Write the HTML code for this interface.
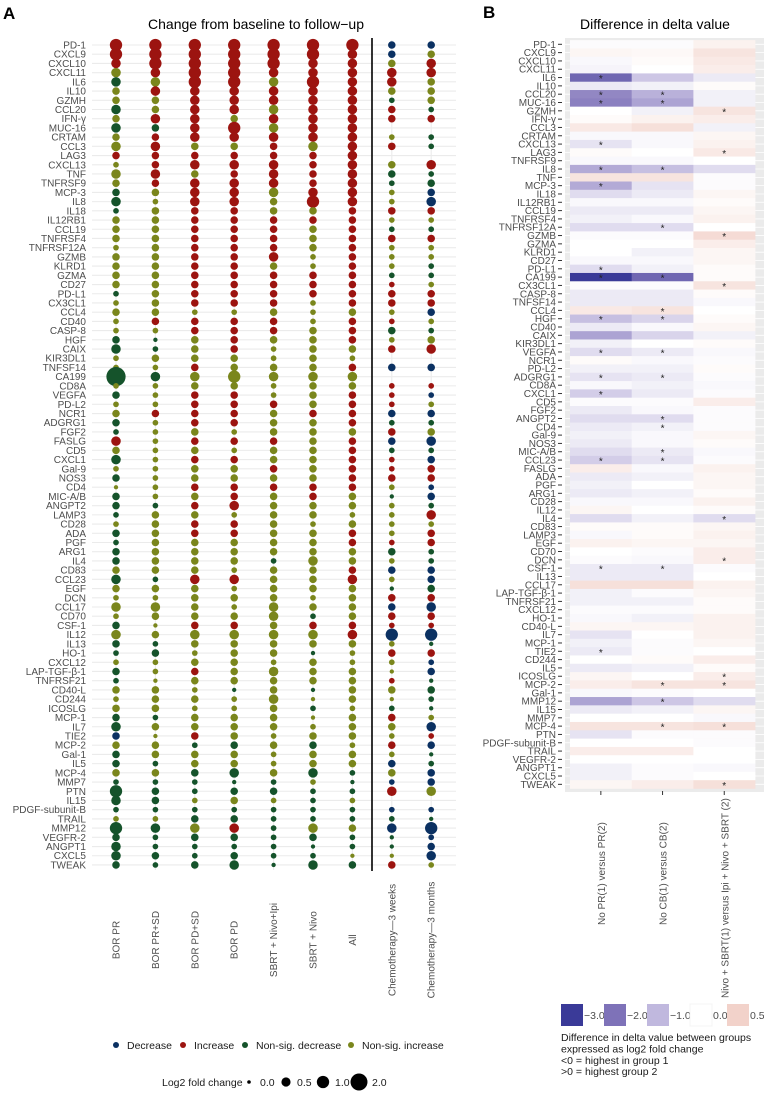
<!DOCTYPE html>
<html><head><meta charset="utf-8"><title>Cytokine changes</title>
<style>
html,body{margin:0;padding:0;background:#fff;}
svg{display:block;font-family:"Liberation Sans",Arial,sans-serif;}
</style></head>
<body>
<svg id="root" width="764" height="1098" viewBox="0 0 764 1098" xmlns="http://www.w3.org/2000/svg">
<text x="3" y="19" font-size="17" font-weight="bold">A</text>
<text x="256" y="29" font-size="14" text-anchor="middle">Change from baseline to follow−up</text>
<text x="483" y="18" font-size="17" font-weight="bold">B</text>
<text x="655" y="29" font-size="14" text-anchor="middle">Difference in delta value</text>
<g id="gA"></g>
<g id="gB"></g>
<g id="legA"></g>
<g id="legB"></g>
</svg>
<script>
const genesA = ["PD-1","CXCL9","CXCL10","CXCL11","IL6","IL10","GZMH","CCL20","IFN-γ","MUC-16","CRTAM","CCL3","LAG3","CXCL13","TNF","TNFRSF9","MCP-3","IL8","IL18","IL12RB1","CCL19","TNFRSF4","TNFRSF12A","GZMB","KLRD1","GZMA","CD27","PD-L1","CX3CL1","CCL4","CD40","CASP-8","HGF","CAIX","KIR3DL1","TNFSF14","CA199","CD8A","VEGFA","PD-L2","NCR1","ADGRG1","FGF2","FASLG","CD5","CXCL1","Gal-9","NOS3","CD4","MIC-A/B","ANGPT2","LAMP3","CD28","ADA","PGF","ARG1","IL4","CD83","CCL23","EGF","DCN","CCL17","CD70","CSF-1","IL12","IL13","HO-1","CXCL12","LAP-TGF-β-1","TNFRSF21","CD40-L","CD244","ICOSLG","MCP-1","IL7","TIE2","MCP-2","Gal-1","IL5","MCP-4","MMP7","PTN","IL15","PDGF-subunit-B","TRAIL","MMP12","VEGFR-2","ANGPT1","CXCL5","TWEAK"];
const groupsA = ["BOR PR","BOR PR+SD","BOR PD+SD","BOR PD","SBRT + Nivo+Ipi","SBRT + Nivo","All","Chemotherapy—3 weeks","Chemotherapy—3 months"];
const fcBorPR = [1.0,1.0,0.55,0.55,-0.55,0.3,0.3,-0.55,0.3,-0.55,0.3,0.55,0.3,0.12,0.55,0.3,-0.3,-0.55,-0.12,0.3,0.3,0.3,0.12,0.3,0.3,0.3,0.3,-0.12,0.12,0.3,0.12,0.12,-0.3,-0.55,0.12,0.12,-2.6,0.12,-0.3,0.12,0.3,-0.3,-0.12,0.55,0.3,-0.55,0.12,-0.3,0.02,-0.3,-0.3,-0.12,0.12,-0.3,-0.12,-0.3,-0.3,0.3,-0.55,0.3,0.12,0.55,0.12,-0.3,0.55,-0.3,-0.12,0.12,-0.3,-0.12,0.3,0.12,0.3,-0.3,-0.55,-0.3,0.3,-0.3,-0.3,0.3,-0.12,-1.0,-0.55,-0.12,0.12,-1.0,-0.3,-0.55,-0.55,-0.3];
const fcBorPRSD = [1.0,1.0,1.0,0.55,0.55,0.55,0.3,0.3,0.55,-0.3,0.3,0.55,0.3,0.3,0.55,0.3,0.3,0.12,0.3,0.3,0.3,0.3,0.3,0.3,0.3,0.3,0.3,0.3,0.3,0.3,0.3,0.12,-0.02,-0.12,0.3,0.12,-0.55,0.12,0.12,0.12,0.3,0.12,0.12,0.12,0.12,0.12,0.12,0.12,0.12,0.12,-0.12,0.3,0.3,0.3,0.3,0.3,0.3,0.3,-0.12,0.3,0.12,0.55,0.3,0.02,0.3,-0.12,-0.3,0.12,0.12,0.02,0.3,0.3,0.3,-0.12,0.3,0.02,0.3,0.3,-0.12,0.3,-0.12,-0.3,-0.3,-0.12,0.12,-0.55,-0.12,-0.12,-0.3,-0.12];
const fcBorPDSD = [1.0,1.0,1.0,1.0,1.0,0.55,0.55,0.55,0.55,0.55,0.55,0.3,0.3,0.55,0.3,0.55,0.55,0.55,0.3,0.3,0.3,0.3,0.3,0.3,0.3,0.3,0.3,0.3,0.3,0.12,0.3,0.3,0.3,0.3,0.3,0.3,0.55,0.3,0.3,0.3,0.3,0.3,0.3,0.3,0.3,0.3,0.3,0.3,0.3,0.3,0.3,0.3,0.3,0.3,0.3,0.3,0.3,0.3,0.55,0.3,0.3,0.3,0.3,0.3,0.55,0.3,0.12,0.3,0.3,0.3,0.12,0.3,0.12,0.3,0.3,0.3,-0.12,0.3,0.3,-0.3,-0.12,-0.12,0.12,-0.12,-0.3,0.55,-0.3,-0.12,-0.12,-0.3];
const fcBorPD = [1.0,1.0,1.0,1.0,1.0,0.55,0.55,0.55,0.3,1.0,0.55,0.3,0.3,0.55,0.3,0.55,0.55,0.55,0.3,0.3,0.3,0.3,0.3,0.3,0.3,0.3,0.3,0.3,0.3,0.12,0.3,0.3,0.3,0.3,0.3,0.3,1.0,0.3,0.3,0.3,0.3,0.3,0.12,0.3,0.12,0.3,0.3,0.3,0.3,0.3,0.55,0.12,0.3,0.3,0.3,0.3,0.3,0.12,0.55,0.12,0.3,0.12,0.3,0.3,0.55,0.3,0.3,0.3,0.3,0.3,-0.02,0.12,0.12,0.3,0.3,0.3,-0.3,0.3,0.3,-0.55,-0.02,-0.3,0.3,-0.12,-0.3,0.55,-0.3,-0.12,-0.3,-0.55];
const fcSbrtNivoIpi = [1.0,1.0,1.0,0.55,0.55,0.55,0.55,0.55,0.55,0.55,0.55,0.3,0.3,0.55,0.55,0.55,0.55,0.3,0.3,0.3,0.3,0.3,0.3,0.55,0.3,0.3,0.3,0.3,0.3,0.3,0.3,0.3,0.3,0.12,0.12,0.3,0.55,0.12,0.12,0.3,0.3,0.3,0.3,0.3,0.3,0.3,0.3,0.3,0.3,0.3,0.3,0.3,0.3,0.3,0.3,0.3,-0.12,0.3,0.3,0.3,0.3,0.55,0.55,0.3,0.55,0.3,0.3,0.12,0.55,0.3,0.3,0.55,0.3,0.3,0.3,0.12,0.3,0.12,0.12,0.3,-0.12,-0.3,0.12,-0.12,-0.12,-0.12,-0.12,-0.12,-0.12,-0.02];
const fcSbrtNivo = [1.0,1.0,0.55,0.55,1.0,0.55,0.55,0.55,0.55,0.55,0.55,0.55,0.3,0.3,0.3,0.3,0.55,1.0,0.3,0.3,0.3,0.3,0.3,0.12,0.12,0.3,0.3,0.3,0.12,0.12,0.12,0.3,0.3,0.3,0.3,0.3,0.55,0.3,0.3,0.3,0.3,0.3,0.3,0.3,0.3,0.3,0.3,0.3,0.3,0.3,0.3,0.3,0.12,0.3,0.3,0.3,0.55,0.3,0.3,0.3,0.12,0.3,-0.12,0.3,0.55,0.3,-0.02,0.3,0.3,0.3,-0.02,0.02,-0.12,0.02,0.12,0.3,-0.3,0.3,0.3,-0.55,0.12,-0.12,-0.12,-0.12,-0.12,0.55,-0.3,-0.02,-0.12,-0.55];
const fcAll = [1.0,0.55,0.55,0.55,0.55,0.55,0.55,0.55,0.55,0.55,0.55,0.55,0.55,0.55,0.55,0.55,0.55,0.55,0.3,0.3,0.3,0.3,0.3,0.3,0.3,0.3,0.3,0.3,0.3,0.3,0.3,0.3,0.3,0.3,0.12,0.3,0.55,0.3,0.3,0.3,0.3,0.3,0.3,0.3,0.3,0.3,0.3,0.3,0.3,0.3,0.3,0.12,0.3,0.3,0.3,0.3,0.3,0.3,0.55,0.3,0.3,0.3,0.3,0.3,0.55,0.3,0.12,0.12,0.3,0.3,0.3,0.3,0.12,0.3,0.3,0.3,0.12,0.3,0.3,-0.12,-0.02,-0.12,0.12,-0.12,-0.12,0.3,-0.12,-0.12,0.02,-0.3];
const fcChemo3w = [-0.3,-0.3,0.3,0.55,0.55,0.3,-0.12,0.3,0.3,null,0.12,0.3,null,0.3,-0.3,-0.12,0.12,0.12,0.3,0.12,-0.12,0.3,0.12,0.12,0.12,-0.12,0.12,0.3,0.3,0.12,0.12,-0.3,0.12,0.3,null,-0.3,null,0.12,0.12,0.12,-0.3,-0.12,0.3,-0.3,-0.12,0.12,0.12,0.3,0.12,-0.02,0.12,0.12,0.12,0.12,0.12,-0.3,0.12,-0.3,0.12,-0.02,0.3,-0.3,0.3,0.12,-1.0,0.12,0.3,0.12,0.02,0.12,0.3,0.02,-0.12,0.3,0.3,0.12,0.3,0.12,-0.3,0.3,-0.12,0.55,null,-0.12,-0.12,-0.55,-0.02,-0.02,0.02,0.3];
const fcChemo3m = [-0.3,0.3,0.55,0.55,0.3,0.3,0.3,-0.12,0.3,null,-0.12,-0.12,null,0.55,-0.12,-0.3,-0.3,-0.55,0.3,0.12,-0.12,0.3,0.12,0.12,-0.12,-0.12,0.12,0.3,0.3,-0.3,0.12,-0.12,0.3,0.55,null,-0.3,null,0.12,-0.12,0.12,-0.3,-0.12,0.3,-0.55,-0.12,-0.3,0.3,0.3,-0.12,-0.3,-0.12,0.55,0.12,0.3,0.3,-0.12,-0.12,-0.3,-0.3,-0.3,0.3,-0.55,0.3,0.12,-1.0,-0.02,0.3,-0.12,-0.3,-0.02,-0.3,-0.12,-0.02,0.12,-0.55,0.12,-0.3,-0.02,-0.12,-0.3,-0.3,0.55,null,-0.12,-0.02,-1.0,-0.12,-0.3,-0.55,0.12];
const sigBorPR = [0,1,2,12,43,75];
const sigBorPRSD = [0,1,2,3,5,8,10,11,12,13,14,15,30,40];
const sigBorPDSD = [0,1,2,3,4,5,6,7,8,9,10,12,13,15,16,17,18,19,20,21,22,23,24,25,26,27,28,30,31,35,38,39,40,41,43,45,48,50,52,53,58,63,68,75];
const sigBorPD = [0,1,2,3,4,5,6,7,9,10,12,13,14,15,16,17,18,19,20,21,22,23,24,25,26,27,28,30,31,32,33,38,39,40,41,43,45,48,49,50,52,53,58,63,85];
const sigSbrtNivoIpi = [0,1,2,3,5,6,8,10,11,12,13,14,15,19,20,21,22,23,25,26,27,28,30,31,39,43,46,48];
const sigSbrtNivo = [0,1,2,3,4,5,6,7,8,9,10,12,13,14,15,16,17,19,25,26,27,40,48,49,63];
const sigAll = [0,1,2,3,4,5,6,7,8,9,10,11,12,13,14,15,16,17,18,19,20,21,22,23,24,25,26,27,28,30,31,32,35,38,39,40,41,43,44,45,46,47,48,53,54,57,58,63,64];
const sigChemo3w = [0,1,3,4,7,8,11,18,21,26,27,28,30,33,35,37,38,39,40,42,43,45,46,47,54,57,60,61,62,63,64,66,69,73,76,78,80,81,83,85,89];
const sigChemo3m = [0,2,3,8,13,16,17,18,21,27,28,29,33,35,37,38,40,43,45,46,47,48,49,51,53,54,57,58,60,61,62,63,64,66,67,68,74,75,76,79,80,83,85,86,87,88];

const genesB = ["PD-1","CXCL9","CXCL10","CXCL11","IL6","IL10","CCL20","MUC-16","GZMH","IFN-γ","CCL3","CRTAM","CXCL13","LAG3","TNFRSF9","IL8","TNF","MCP-3","IL18","IL12RB1","CCL19","TNFRSF4","TNFRSF12A","GZMB","GZMA","KLRD1","CD27","PD-L1","CA199","CX3CL1","CASP-8","TNFSF14","CCL4","HGF","CD40","CAIX","KIR3DL1","VEGFA","NCR1","PD-L2","ADGRG1","CD8A","CXCL1","CD5","FGF2","ANGPT2","CD4","Gal-9","NOS3","MIC-A/B","CCL23","FASLG","ADA","PGF","ARG1","CD28","IL12","IL4","CD83","LAMP3","EGF","CD70","DCN","CSF-1","IL13","CCL17","LAP-TGF-β-1","TNFRSF21","CXCL12","HO-1","CD40-L","IL7","MCP-1","TIE2","CD244","IL5","ICOSLG","MCP-2","Gal-1","MMP12","IL15","MMP7","MCP-4","PTN","PDGF-subunit-B","TRAIL","VEGFR-2","ANGPT1","CXCL5","TWEAK"];
const comparisonsB = ["No PR(1) versus PR(2)","No CB(1) versus CB(2)","Nivo + SBRT(1) versus Ipi + Nivo + SBRT (2)"];
const diffNoPR = [-0.05,0.1,-0.1,-0.15,-2.2,-0.3,-1.7,-1.8,0,0.05,0.25,-0.1,-0.4,0.05,-0.1,-1.2,0.3,-1.2,-0.5,-0.1,-0.3,-0.2,-0.5,-0.05,0,0,-0.1,-0.5,-3,-0.05,-0.3,-0.3,0.25,-0.9,-0.3,-1.3,-0.2,-0.5,0.05,-0.2,-0.4,-0.1,-0.7,-0.05,-0.3,-0.5,-0.3,-0.2,-0.3,-0.5,-0.7,0.2,-0.3,-0.2,-0.3,-0.1,0.1,-0.5,0.05,-0.1,0.15,0,-0.05,-0.3,-0.3,0.35,-0.2,-0.2,-0.05,-0.1,0.1,-0.4,-0.2,-0.3,0,-0.3,0.1,0.2,-0.1,-1.3,-0.3,0,0.3,-0.4,0,0.2,0,-0.2,-0.2,0.1];
const diffNoCB = [-0.05,0.08,0.05,0,-0.8,-0.2,-1.1,-1.3,-0.2,0.15,0.35,-0.1,-0.1,0,-0.1,-0.9,0.3,-0.4,-0.3,-0.1,-0.3,-0.1,-0.5,-0.05,0,-0.2,-0.1,-0.2,-2.2,-0.05,-0.3,-0.3,0.3,-0.6,-0.1,-0.6,0,-0.3,-0.1,-0.2,-0.3,-0.2,-0.3,-0.05,-0.1,-0.5,-0.2,-0.1,-0.1,-0.3,-0.4,-0.1,-0.2,0,-0.2,-0.1,0,-0.2,0.05,0.05,0.1,-0.05,-0.1,-0.3,-0.3,0.35,-0.05,-0.2,-0.05,-0.2,0.1,0,-0.05,-0.05,0.05,-0.2,0,0.3,-0.05,-0.8,-0.2,0,0.3,-0.05,0,0.2,0,-0.05,-0.05,0.2];
const diffNivoSbrt = [0.15,0.3,0.25,0.2,-0.3,0.05,-0.2,-0.2,0.3,0.2,-0.2,0.1,0.15,0.25,0,-0.5,-0.05,-0.05,0.1,0.05,0.1,0.15,0,0.4,0.2,0.1,0.1,0.05,0.05,0.3,0.05,-0.1,0,0.05,0.1,-0.2,0.05,-0.1,-0.05,0.05,-0.05,-0.1,-0.05,0.2,-0.05,-0.05,-0.05,0.1,0.05,-0.1,-0.05,0.15,0.1,0.1,0.05,0.15,0.05,-0.5,0.1,0.15,0.1,0.2,0.2,-0.05,0,0.15,0.1,0.05,0.05,0.15,0.15,0.15,0.1,0,0.2,0.05,0.2,0.3,0,-0.5,0.1,-0.1,0.35,-0.05,-0.05,0,0,-0.1,0,0.35];
const starsNoPR = [4,6,7,12,15,17,27,28,33,37,40,42,50,63,73];
const starsNoCB = [6,7,15,22,28,32,33,37,40,45,46,49,50,63,77,79,82];
const starsNivoSbrt = [8,13,23,29,57,62,76,77,82,89];
const legendBreaks = [-3.0,-2.0,-1.0,0.0,0.5];
const sizeBreaks = [0.0,0.5,1.0,2.0];

const NS = "http://www.w3.org/2000/svg";
function mk(tag, parent, attrs){const e=document.createElementNS(NS,tag);for(const k in attrs)e.setAttribute(k,attrs[k]);parent.appendChild(e);return e;}

/* ---------- Panel A ---------- */
const gA = document.getElementById('gA');
const colX0 = 116, colStep = 39.4;
const rowY0 = 45, rowStep = 9.213;
const xA = i => colX0 + colStep*i;
const yA = i => rowY0 + rowStep*i;
const rA = v => Math.sqrt(4 + 34*Math.abs(v));
const COL = {dec:"#0b3162", inc:"#9c1410", nsdec:"#15532b", nsinc:"#7a861c"};
const colsA = [fcBorPR,fcBorPRSD,fcBorPDSD,fcBorPD,fcSbrtNivoIpi,fcSbrtNivo,fcAll,fcChemo3w,fcChemo3m];
const sigsA = [sigBorPR,sigBorPRSD,sigBorPDSD,sigBorPD,sigSbrtNivoIpi,sigSbrtNivo,sigAll,sigChemo3w,sigChemo3m];

genesA.forEach((g,i)=>{
  const ln = mk('line', gA, {x1:92,x2:456,y1:yA(i),y2:yA(i),stroke:"#ebebeb","stroke-width":1.1});
  
  
  const t = mk('text', gA, {x:86,y:yA(i)+3.5,"font-size":10,"text-anchor":"end",fill:"#4d4d4d"});
  t.textContent = g;
  
  
});
groupsA.forEach((g,j)=>{
  const vl = mk('line', gA, {x1:xA(j),x2:xA(j),y1:40,y2:870,stroke:"#ebebeb","stroke-width":1.1});
  
  
});
const sep = mk('line', gA, {x1:372,x2:372,y1:38,y2:871,stroke:"#000","stroke-width":1.6});


colsA.forEach((col,j)=>{
  const sig = new Set(sigsA[j]);
  col.forEach((v,i)=>{
    if(v===null) return;
    let c;
    if(sig.has(i)) c = v<0?COL.dec:COL.inc; else c = v<0?COL.nsdec:COL.nsinc;
    const d = mk('circle', gA, {cx:xA(j),cy:yA(i),r:rA(v).toFixed(2),fill:c});
    
    
  });
  const t = mk('text', gA, {x:0,y:0,"font-size":10,"text-anchor":"middle",fill:"#4d4d4d",transform:`translate(${xA(j)+3.5},940) rotate(-90)`});
  t.textContent = groupsA[j];
  
  
});

/* ---------- Panel B ---------- */
const gB = document.getElementById('gB');
const bx0 = 570, bw = 61.7, by0 = 44.3, bh = 8.315;
const xB = j => bx0 + bw*j;
const yB = i => by0 + bh*i;
const stops = [[-3,[58,58,152]],[-2,[126,114,184]],[-1,[192,184,222]],[0,[255,255,255]],[0.5,[242,210,202]]];
function colB(v){
  if(v<=stops[0][0]) return `rgb(${stops[0][1]})`;
  for(let k=0;k<stops.length-1;k++){
    const [a,ca]=stops[k],[b,cb]=stops[k+1];
    if(v<=b){const t=(v-a)/(b-a);return `rgb(${ca.map((c,m)=>Math.round(c+(cb[m]-c)*t)).join(',')})`;}
  }
  return `rgb(${stops[stops.length-1][1]})`;
}
const bg = mk('rect', gB, {x:565,y:38,width:199,height:754,fill:"#ebebeb"});


genesB.forEach((g,i)=>{
  const gl = mk('line', gB, {x1:565,x2:764,y1:yB(i),y2:yB(i),stroke:"#fff","stroke-width":0.8});
  
  
  const t = mk('text', gB, {x:556,y:yB(i)+3.5,"font-size":10,"text-anchor":"end",fill:"#4d4d4d"});
  t.textContent = g;
  
  
  const tk = mk('line', gB, {x1:558,x2:562,y1:yB(i),y2:yB(i),stroke:"#333","stroke-width":1});
  
  
});
const colsB = [diffNoPR,diffNoCB,diffNivoSbrt];
const starsB = [starsNoPR,starsNoCB,starsNivoSbrt];
colsB.forEach((col,j)=>{
  col.forEach((v,i)=>{
    const r = mk('rect', gB, {x:xB(j),y:(yB(i)-bh/2).toFixed(2),width:bw+0.3,height:bh+0.3,fill:colB(v)});
    
    
  });
  starsB[j].forEach(i=>{
    const s = mk('text', gB, {x:xB(j)+bw/2,y:yB(i)+4.5,"font-size":10,"text-anchor":"middle",fill:"#222"});
    s.textContent = "*";
    
    
  });
  const tk = mk('line', gB, {x1:xB(j)+bw/2,x2:xB(j)+bw/2,y1:791,y2:795,stroke:"#333","stroke-width":1});
  
  
  const bottom = j===2 ? 998 : 925;
  const t = mk('text', gB, {x:0,y:0,"font-size":10,"text-anchor":"start",fill:"#4d4d4d",transform:`translate(${xB(j)+bw/2+4},${bottom}) rotate(-90)`});
  t.textContent = comparisonsB[j];
  
  
});

/* ---------- Legends ---------- */
const legA = document.getElementById('legA');
const catNames = ["Decrease","Increase","Non-sig. decrease","Non-sig. increase"];
const catCols = [COL.dec,COL.inc,COL.nsdec,COL.nsinc];
const catX = [116,183,245,351];
catNames.forEach((n,k)=>{
  const c = mk('circle', legA, {cx:catX[k],cy:1045,r:3,fill:catCols[k]});
  
  
  const t = mk('text', legA, {x:catX[k]+11,y:1049,"font-size":10.5,fill:"#1a1a1a"});
  t.textContent = n;
  
  
});
const st = mk('text', legA, {x:162,y:1086,"font-size":10.5,fill:"#1a1a1a"});
st.textContent = "Log2 fold change";


const sizeX = [249,286,323,359];
sizeBreaks.forEach((v,k)=>{
  const c = mk('circle', legA, {cx:sizeX[k],cy:1082,r:(v===0?1.8:rA(v)).toFixed(2),fill:"#000"});
  
  
  const t = mk('text', legA, {x:sizeX[k]+(v===0?11:v<1?11:v<2?12:13),y:1086,"font-size":10.5,fill:"#1a1a1a"});
  t.textContent = v.toFixed(1);
  
  
});

const legB = document.getElementById('legB');
const sqX = [561,604,647,690,727];
legendBreaks.forEach((v,k)=>{
  const r = mk('rect', legB, {x:sqX[k],y:1004,width:22,height:22,fill:colB(v),stroke:v===0?"#f4f4f4":"none"});
  
  
  const t = mk('text', legB, {x:k===3?713:sqX[k]+23,y:1019,"font-size":10.5,fill:"#4d4d4d"});
  t.textContent = (v<0?"−":"")+Math.abs(v).toFixed(1);
  
  
});
const notes = ["Difference in delta value between groups","expressed as log2 fold change","<0 = highest in group 1",">0 = highest group 2"];
notes.forEach((s,k)=>{
  const t = mk('text', legB, {x:561,y:1041+k*11.4,"font-size":10.5,fill:"#1a1a1a"});
  t.textContent = s;
  
  
});
</script>
</body></html>
